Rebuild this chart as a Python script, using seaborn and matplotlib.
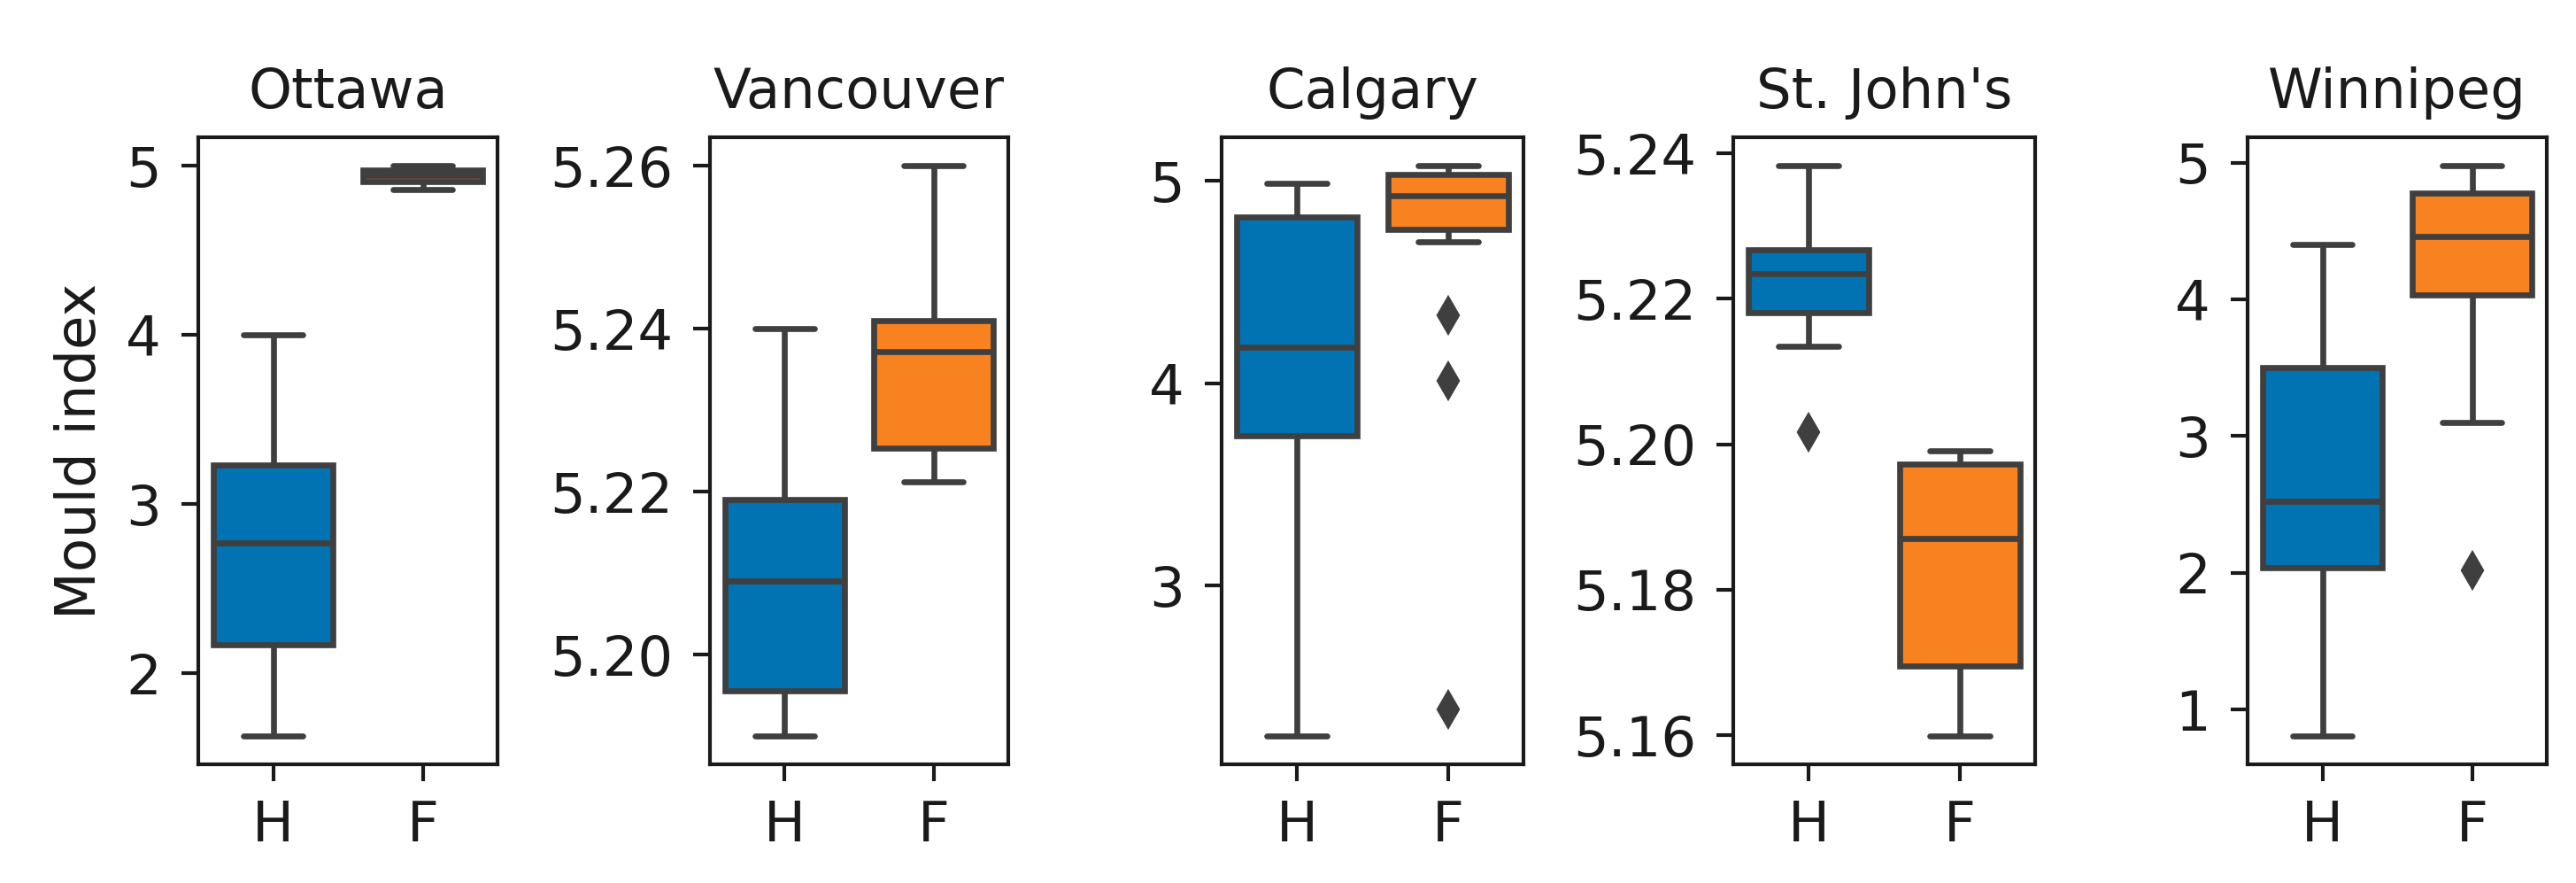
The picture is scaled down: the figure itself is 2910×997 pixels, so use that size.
import numpy as np
import pandas as pd
import matplotlib
matplotlib.use("Agg")
import matplotlib.pyplot as plt
import seaborn as sns
from matplotlib.ticker import MultipleLocator, FormatStrFormatter

# ---------------- data ----------------
cities = ["Ottawa", "Vancouver", "Calgary", "St. John's", "Winnipeg"]
groups = ["H", "F"]

# five-number summaries, one [H, F] pair per city
whisker_low = [[1.63, 4.86], [5.1900, 5.2212], [2.26, 4.70], [5.2134, 5.1599], [0.807, 3.10]]
quartile_1 = [[2.17, 4.905], [5.1955, 5.2253], [3.74, 4.76], [5.2181, 5.1695], [2.04, 4.03]]
median = [[2.77, 4.94], [5.2090, 5.2372], [4.177, 4.924], [5.2235, 5.1870], [2.525, 4.46]]
quartile_3 = [[3.23, 4.975], [5.2190, 5.2410], [4.82, 5.03], [5.2267, 5.1973], [3.50, 4.78]]
whisker_high = [[4.00, 5.00], [5.2400, 5.2600], [4.985, 5.074], [5.2383, 5.1991], [4.403, 4.979]]
outliers = [[[], []], [[], []], [[], [2.39, 4.01, 4.335]], [[5.2017], []], [[], [2.02]]]

tick_steps = [1, 0.02, 1, 0.02, 1]
tick_formats = ["%d", "%.2f", "%d", "%.2f", "%d"]
y_label = "Mould index"
box_colors = ["#0173b2", "#f7821f"]
line_color = "#3f3f3f"

# long table whose box statistics reproduce the summaries above
rows = []
for ci, city in enumerate(cities):
    for gi, grp in enumerate(groups):
        vals = (list(outliers[ci][gi]) + [whisker_low[ci][gi]]
                + [quartile_1[ci][gi]] * 20 + [median[ci][gi]] * 20
                + [quartile_3[ci][gi]] * 20 + [whisker_high[ci][gi]])
        for v in vals:
            rows.append({"city": city, "group": grp, "value": v})
df = pd.DataFrame(rows)

# ---------------- style ----------------
sns.set_theme(style="ticks", rc={
    "axes.linewidth": 1.0,
    "axes.edgecolor": "#1a1a1a",
    "xtick.major.size": 4.6,
    "ytick.major.size": 4.6,
    "xtick.major.width": 1.0,
    "ytick.major.width": 1.0,
    "xtick.major.pad": 5.0,
    "ytick.major.pad": 5.5,
    "xtick.color": "#1a1a1a",
    "ytick.color": "#1a1a1a",
    "text.color": "#1a1a1a",
    "axes.labelcolor": "#1a1a1a",
    "font.size": 15,
    "axes.titlesize": 15,
    "axes.labelsize": 15,
    "xtick.labelsize": 15,
    "ytick.labelsize": 15,
})
plt.rcParams["font.family"] = ["DejaVu Sans"]

W, H = 2910, 997
fig = plt.figure(figsize=(W / 300, 997.2 / 300), dpi=300)

# panel frames in pixels (left, width); shared top/bottom
panel_px = [(224, 338), (802, 337), (1380, 341), (1958, 341), (2539, 338)]
top_px, bottom_px = 155, 863

for ci, city in enumerate(cities):
    left, width = panel_px[ci]
    ax = fig.add_axes([left / W, 1 - bottom_px / H, width / W, (bottom_px - top_px) / H])
    sub = df[df["city"] == city]
    sns.boxplot(
        data=sub, x="group", y="value", hue="group",
        order=groups, hue_order=groups, palette=box_colors,
        saturation=1, width=0.8, linewidth=1.6, linecolor=line_color,
        fliersize=6.5,
        flierprops=dict(marker="d", markerfacecolor=line_color,
                        markeredgecolor=line_color, markersize=6.5),
        legend=False, ax=ax,
    )
    ax.set_title(city, pad=8)
    ax.set_xlabel("")
    ax.set_ylabel(y_label if ci == 0 else "", labelpad=5)
    ax.yaxis.set_major_locator(MultipleLocator(tick_steps[ci]))
    ax.yaxis.set_major_formatter(FormatStrFormatter(tick_formats[ci]))
    for sp in ax.spines.values():
        sp.set_visible(True)

fig.savefig("out.png", dpi=300, facecolor="white")
